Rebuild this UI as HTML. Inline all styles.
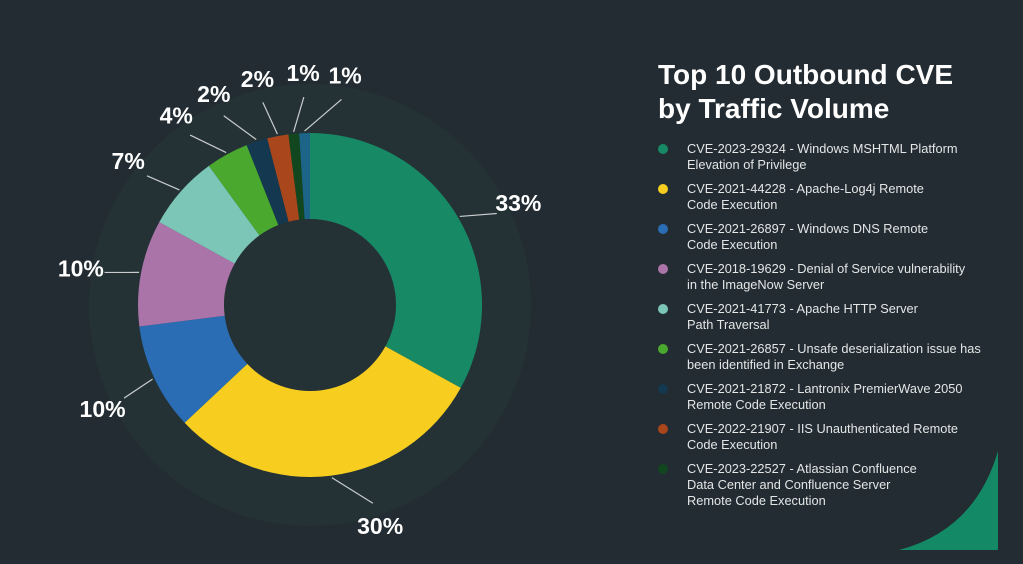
<!DOCTYPE html>
<html><head><meta charset="utf-8"><style>
body{margin:0;background:#222c32;width:1023px;height:564px;overflow:hidden;font-family:"Liberation Sans",sans-serif}
</style></head><body>
<svg id="chart" width="1023" height="564" style="position:absolute;left:0;top:0">
<rect width="1023" height="564" fill="#222c32"/>
<circle cx="310" cy="305" r="221" fill="#243236"/>
<g id="slices"></g><g id="labels"></g>
<text x="658" y="84" fill="#fff" font-size="28" font-weight="bold">Top 10 Outbound CVE</text>
<text x="658" y="118" fill="#fff" font-size="28" font-weight="bold">by Traffic Volume</text>
<g id="legend"></g>
<path d="M899 550 Q975 530 998 451 L998 550 Z" fill="#138a65"/>
</svg>
<script>
const categories=["CVE-2023-29324","CVE-2021-44228","CVE-2021-26897","CVE-2018-19629","CVE-2021-41773","CVE-2021-26857","CVE-2021-21872","CVE-2022-21907","CVE-2023-22527","Other"];
const values=[33,30,10,10,7,4,2,2,1,1];
const labels=["33%","30%","10%","10%","7%","4%","2%","2%","1%","1%"];
const legendText=[["CVE-2023-29324 -  Windows MSHTML Platform","Elevation of Privilege"],["CVE-2021-44228 - Apache-Log4j Remote","Code Execution"],["CVE-2021-26897 - Windows DNS Remote","Code Execution"],["CVE-2018-19629 - Denial of Service vulnerability","in the ImageNow Server"],["CVE-2021-41773 - Apache HTTP Server","Path Traversal"],["CVE-2021-26857 - Unsafe deserialization issue has","been identified in Exchange"],["CVE-2021-21872 - Lantronix PremierWave 2050","Remote Code Execution"],["CVE-2022-21907 - IIS Unauthenticated Remote","Code Execution"],["CVE-2023-22527 - Atlassian Confluence","Data Center and Confluence Server","Remote Code Execution"]];
const colors=["#178a65","#f7cd20","#2a6db5","#ab74a8","#7cc6b8","#4aa82e","#14384f","#a9461c","#12461e","#1c6589"];
// label placement tweak (degrees) to avoid overlap
const labelShift=[4.5,-10.4,-1.4,-1.8,-3,-6.4,-6.5,-2.3,3.7,10.5];
const NS="http://www.w3.org/2000/svg",cx=310,cy=305,R=172,r0=86;
const total=values.reduce((a,b)=>a+b,0);
function pt(a,r){return [cx+r*Math.sin(a),cy-r*Math.cos(a)];}
let acc=0;
const sg=document.getElementById('slices'),lg=document.getElementById('labels');
values.forEach((v,i)=>{
 const a0=acc/total*2*Math.PI,a1=(acc+v)/total*2*Math.PI;acc+=v;
 const big=a1-a0>Math.PI?1:0;
 const p1=pt(a0,R),p2=pt(a1,R),p3=pt(a1,r0),p4=pt(a0,r0);
 const p=document.createElementNS(NS,'path');
 p.setAttribute('d',`M${p1} A${R} ${R} 0 ${big} 1 ${p2} L${p3} A${r0} ${r0} 0 ${big} 0 ${p4} Z`);
 p.setAttribute('fill',colors[i]);
 
 
 sg.appendChild(p);
 const am=(a0+a1)/2,al=am+labelShift[i]*Math.PI/180;
 const l1=pt(am,R+2),l2=pt(al,R+36),lt=pt(al,R+60);
 const ln=document.createElementNS(NS,'line');
 ln.setAttribute('x1',l1[0]);ln.setAttribute('y1',l1[1]);ln.setAttribute('x2',l2[0]);ln.setAttribute('y2',l2[1]);
 ln.setAttribute('stroke','#c8cccc');ln.setAttribute('stroke-width','1.2');
 
 
 lg.appendChild(ln);
 const t=document.createElementNS(NS,'text');
 t.setAttribute('x',lt[0]);t.setAttribute('y',lt[1]+8);t.setAttribute('text-anchor','middle');
 t.setAttribute('fill','#fff');t.setAttribute('font-size','23');t.setAttribute('font-weight','bold');
 t.textContent=labels[i];
 
 
 lg.appendChild(t);
});
const leg=document.getElementById('legend');
legendText.forEach((lines,i)=>{
 const y=153+i*40;
 const g=document.createElementNS(NS,'g');
 
 
 const c=document.createElementNS(NS,'circle');
 c.setAttribute('cx',663);c.setAttribute('cy',y-4);c.setAttribute('r',5);c.setAttribute('fill',colors[i]);
 
 
 g.appendChild(c);
 lines.forEach((s,j)=>{
  const t=document.createElementNS(NS,'text');
  t.setAttribute('x',687);t.setAttribute('y',y+j*16);t.setAttribute('fill','#e4e6e6');t.setAttribute('font-size','12.8');
  t.textContent=s;
  
  
  g.appendChild(t);
 });
 leg.appendChild(g);
});
</script>
</body></html>
